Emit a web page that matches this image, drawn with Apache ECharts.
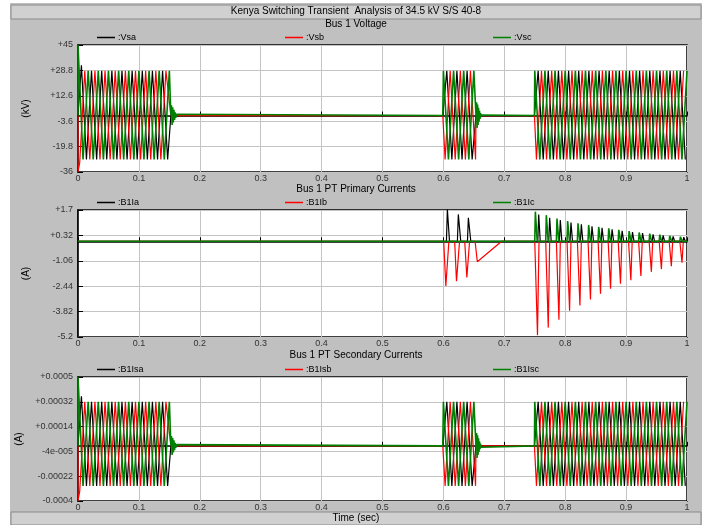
<!DOCTYPE html>
<html>
<head>
<meta charset="utf-8">
<title>Kenya Switching Transient Analysis</title>
<script src="https://cdn.jsdelivr.net/npm/echarts@6/dist/echarts.min.js"></script>
<style>
  html, body { margin: 0; padding: 0; background: #fff; }
  #main { width: 712px; height: 525px; }
</style>
</head>
<body>
<div id="main"></div>
<script>
// tick labels
const timeTicks = ['0', '0.1', '0.2', '0.3', '0.4', '0.5', '0.6', '0.7', '0.8', '0.9', '1']
const voltTicks = ['-36', '-19.8', '-3.6', '+12.6', '+28.8', '+45']
const primTicks = ['-5.2', '-3.82', '-2.44', '-1.06', '+0.32', '+1.7']
const secTicks = ['-0.0004', '-0.00022', '-4e-005', '+0.00014', '+0.00032', '+0.0005']

// energised intervals (s): where the traces leave zero and where they return to it
const burstStart = [0, 0.599, 0.7495]
const burstStop = [0.1525, 0.6535, 1.0]

// peak times of each phase in the three intervals
const peakTimesA = [
  [0.0056, 0.0139, 0.0222, 0.0306, 0.0389, 0.0472, 0.0556, 0.0639, 0.0722, 0.0806, 0.0889, 0.0972, 0.1056, 0.1139, 0.1222, 0.1306, 0.1389, 0.1472],
  [0.6056, 0.6139, 0.6222, 0.6306, 0.6389, 0.6472],
  [0.7556, 0.7639, 0.7722, 0.7806, 0.7889, 0.7972, 0.8056, 0.8139, 0.8222, 0.8306, 0.8389, 0.8472, 0.8556, 0.8639, 0.8722, 0.8806, 0.8889, 0.8972, 0.9056, 0.9139, 0.9222, 0.9306, 0.9389, 0.9472, 0.9556, 0.9639, 0.9722, 0.9806, 0.9889, 0.9972]
]
const peakTimesB = [
  [0, 0.0028, 0.0111, 0.0194, 0.0278, 0.0361, 0.0444, 0.0528, 0.0611, 0.0694, 0.0778, 0.0861, 0.0944, 0.1028, 0.1111, 0.1194, 0.1278, 0.1361, 0.1444],
  [0.6028, 0.6111, 0.6194, 0.6278, 0.6361, 0.6444, 0.6528],
  [0.7528, 0.7611, 0.7694, 0.7778, 0.7861, 0.7944, 0.8028, 0.8111, 0.8194, 0.8278, 0.8361, 0.8444, 0.8528, 0.8611, 0.8694, 0.8778, 0.8861, 0.8944, 0.9028, 0.9111, 0.9194, 0.9278, 0.9361, 0.9444, 0.9528, 0.9611, 0.9694, 0.9778, 0.9861, 0.9944]
]
const peakTimesC = [
  [0, 0.0083, 0.0167, 0.0250, 0.0333, 0.0417, 0.0500, 0.0583, 0.0667, 0.0750, 0.0833, 0.0917, 0.1000, 0.1083, 0.1167, 0.1250, 0.1333, 0.1417, 0.1500],
  [0.6000, 0.6083, 0.6167, 0.6250, 0.6333, 0.6417, 0.6500],
  [0.7500, 0.7583, 0.7667, 0.7750, 0.7833, 0.7917, 0.8000, 0.8083, 0.8167, 0.8250, 0.8333, 0.8417, 0.8500, 0.8583, 0.8667, 0.8750, 0.8833, 0.8917, 0.9000, 0.9083, 0.9167, 0.9250, 0.9333, 0.9417, 0.9500, 0.9583, 0.9667, 0.9750, 0.9833, 0.9917, 1.0000]
]

// bus voltage peaks (kV)
const vsa = [
  [32.0, -28.0, 28.6, -28.0, 28.6, -28.0, 28.6, -28.0, 28.6, -28.0, 28.6, -28.0, 28.6, -28.0, 28.6, -28.0, 28.6, -28.0],
  [28.6, -28.0, 28.6, -28.0, 28.6, -28.0],
  [28.6, -28.0, 28.6, -28.0, 28.6, -28.0, 28.6, -28.0, 28.6, -28.0, 28.6, -28.0, 28.6, -28.0, 28.6, -28.0, 28.6, -28.0, 28.6, -28.0, 28.6, -28.0, 28.6, -28.0, 28.6, -28.0, 28.6, -28.0, 28.6, -28.0]
]
const vsb = [
  [-36, -30.0, 28.6, -28.0, 28.6, -28.0, 28.6, -28.0, 28.6, -28.0, 28.6, -28.0, 28.6, -28.0, 28.6, -28.0, 28.6, -28.0, 28.6],
  [-28.0, 28.6, -28.0, 28.6, -28.0, 28.6, -28.0],
  [-28.0, 28.6, -28.0, 28.6, -28.0, 28.6, -28.0, 28.6, -28.0, 28.6, -28.0, 28.6, -28.0, 28.6, -28.0, 28.6, -28.0, 28.6, -28.0, 28.6, -28.0, 28.6, -28.0, 28.6, -28.0, 28.6, -28.0, 28.6, -28.0, 28.6]
]
const vsc = [
  [45, -28.0, 28.6, -28.0, 28.6, -28.0, 28.6, -28.0, 28.6, -28.0, 28.6, -28.0, 28.6, -28.0, 28.6, -28.0, 28.6, -28.0, 28.6],
  [28.6, -28.0, 28.6, -28.0, 28.6, -28.0, 28.6],
  [28.6, -28.0, 28.6, -28.0, 28.6, -28.0, 28.6, -28.0, 28.6, -28.0, 28.6, -28.0, 28.6, -28.0, 28.6, -28.0, 28.6, -28.0, 28.6, -28.0, 28.6, -28.0, 28.6, -28.0, 28.6, -28.0, 28.6, -28.0, 28.6, -28.0, 28.6]
]
// ringing of phase c after each opening [t, kV]
const ringVsc = [
  [[0.1535, 6.5], [0.1545, -6.0], [0.1555, 5.2], [0.1565, -4.4], [0.1575, 3.6], [0.1585, -2.8], [0.1595, 2.0], [0.1605, -1.4], [0.1615, 0.8], [0.1625, -0.4], [0.1640, 0]],
  [[0.6545, 8.5], [0.6553, -8.0], [0.6561, 7.0], [0.6569, -6.0], [0.6577, 5.0], [0.6585, -4.0], [0.6593, 3.0], [0.6601, -2.2], [0.6609, 1.5], [0.6617, -0.9], [0.6625, 0.4], [0.6635, 0]],
  []
]

// PT secondary current peaks (A)
const isa = [
  [0.00036, -0.00029, 0.00032, -0.00029, 0.00032, -0.00029, 0.00032, -0.00029, 0.00032, -0.00029, 0.00032, -0.00029, 0.00032, -0.00029, 0.00032, -0.00029, 0.00032, -0.00029],
  [0.00032, -0.00029, 0.00032, -0.00029, 0.00032, -0.00029],
  [0.00032, -0.00029, 0.00032, -0.00029, 0.00032, -0.00029, 0.00032, -0.00029, 0.00032, -0.00029, 0.00032, -0.00029, 0.00032, -0.00029, 0.00032, -0.00029, 0.00032, -0.00029, 0.00032, -0.00029, 0.00032, -0.00029, 0.00032, -0.00029, 0.00032, -0.00029, 0.00032, -0.00029, 0.00032, -0.00029]
]
const isb = [
  [-0.0004, -0.00033, 0.00032, -0.00029, 0.00032, -0.00029, 0.00032, -0.00029, 0.00032, -0.00029, 0.00032, -0.00029, 0.00032, -0.00029, 0.00032, -0.00029, 0.00032, -0.00029, 0.00032],
  [-0.00029, 0.00032, -0.00029, 0.00032, -0.00029, 0.00032, -0.00029],
  [-0.00029, 0.00032, -0.00029, 0.00032, -0.00029, 0.00032, -0.00029, 0.00032, -0.00029, 0.00032, -0.00029, 0.00032, -0.00029, 0.00032, -0.00029, 0.00032, -0.00029, 0.00032, -0.00029, 0.00032, -0.00029, 0.00032, -0.00029, 0.00032, -0.00029, 0.00032, -0.00029, 0.00032, -0.00029, 0.00032]
]
const isc = [
  [0.0005, -0.00029, 0.00032, -0.00029, 0.00032, -0.00029, 0.00032, -0.00029, 0.00032, -0.00029, 0.00032, -0.00029, 0.00032, -0.00029, 0.00032, -0.00029, 0.00032, -0.00029, 0.00032],
  [0.00032, -0.00029, 0.00032, -0.00029, 0.00032, -0.00029, 0.00032],
  [0.00032, -0.00029, 0.00032, -0.00029, 0.00032, -0.00029, 0.00032, -0.00029, 0.00032, -0.00029, 0.00032, -0.00029, 0.00032, -0.00029, 0.00032, -0.00029, 0.00032, -0.00029, 0.00032, -0.00029, 0.00032, -0.00029, 0.00032, -0.00029, 0.00032, -0.00029, 0.00032, -0.00029, 0.00032, -0.00029, 0.00032]
]
const ringIsc = [
  [[0.1535, 0.000072], [0.1545, -0.000066], [0.1555, 0.000057], [0.1565, -0.000048], [0.1575, 0.00004], [0.1585, -0.000031], [0.1595, 0.000022], [0.1605, -0.000015], [0.1615, 0.000009], [0.1625, -0.000004], [0.1640, 0]],
  [[0.6545, 0.000094], [0.6553, -0.000088], [0.6561, 0.000077], [0.6569, -0.000066], [0.6577, 0.000055], [0.6585, -0.000044], [0.6593, 0.000033], [0.6601, -0.000024], [0.6609, 0.000016], [0.6617, -0.00001], [0.6625, 0.000004], [0.6635, 0]],
  []
]

// PT primary current pulses (A): [start, peak time, end, peak value]
const b1iaPulses = [
  [0.6050, 0.6065, 0.6100, 1.75], [0.6230, 0.6245, 0.6285, 1.46], [0.6395, 0.6410, 0.6450, 1.28],
  [0.7550, 0.7565, 0.7590, 1.46], [0.7730, 0.7745, 0.7770, 1.28], [0.7905, 0.7920, 0.7945, 1.15],
  [0.8080, 0.8095, 0.8120, 1.02], [0.8250, 0.8265, 0.8290, 0.92], [0.8425, 0.8440, 0.8465, 0.82],
  [0.8590, 0.8605, 0.8630, 0.73], [0.8755, 0.8770, 0.8795, 0.65], [0.8920, 0.8935, 0.8960, 0.57],
  [0.9090, 0.9105, 0.9130, 0.50], [0.9255, 0.9270, 0.9295, 0.44], [0.9428, 0.9443, 0.9468, 0.38],
  [0.9593, 0.9608, 0.9633, 0.32], [0.9757, 0.9772, 0.9797, 0.27], [0.9932, 0.9947, 0.9972, 0.22]
]
const b1ibPulses = [
  [0.6005, 0.6040, 0.6090, -2.43], [0.6185, 0.6215, 0.6265, -2.17], [0.6350, 0.6385, 0.6430, -1.97],
  [0.7500, 0.7545, 0.7570, -5.10], [0.7680, 0.7722, 0.7745, -4.69], [0.7855, 0.7897, 0.7920, -4.26],
  [0.8030, 0.8072, 0.8095, -3.77], [0.8200, 0.8242, 0.8265, -3.49], [0.8375, 0.8415, 0.8438, -3.16],
  [0.8540, 0.8580, 0.8602, -2.85], [0.8705, 0.8745, 0.8767, -2.58], [0.8870, 0.8908, 0.8930, -2.30],
  [0.9040, 0.9078, 0.9100, -2.12], [0.9205, 0.9243, 0.9265, -1.88], [0.9378, 0.9415, 0.9437, -1.66],
  [0.9543, 0.9580, 0.9602, -1.51], [0.9707, 0.9743, 0.9765, -1.35], [0.9882, 0.9918, 0.9940, -1.16]
]
// slow decay of phase b after the second opening [t, A]
const b1ibDecay = [[0.6520, 0], [0.6557, -1.11], [0.6957, 0]]
const b1icPulses = [
  [0.7500, 0.7510, 0.7540, 1.61], [0.7680, 0.7690, 0.7720, 1.42], [0.7855, 0.7865, 0.7895, 1.24],
  [0.8030, 0.8040, 0.8070, 1.10], [0.8200, 0.8210, 0.8240, 0.98], [0.8375, 0.8385, 0.8415, 0.88],
  [0.8540, 0.8550, 0.8580, 0.78], [0.8705, 0.8715, 0.8745, 0.70], [0.8870, 0.8880, 0.8910, 0.62],
  [0.9040, 0.9050, 0.9080, 0.55], [0.9205, 0.9215, 0.9245, 0.48], [0.9378, 0.9388, 0.9418, 0.42],
  [0.9543, 0.9553, 0.9583, 0.36], [0.9707, 0.9717, 0.9747, 0.30], [0.9882, 0.9892, 0.9922, 0.25]
]

const FONT = 'Liberation Sans'

// a trace that sits at zero except inside the energised intervals
function buildWave (times, values, ring) {
  const pts = []
  times.forEach((seg, s) => {
    pts.push([burstStart[s], 0])
    seg.forEach((t, i) => pts.push([t, values[s][i]]))
    if (burstStop[s] < 1) pts.push([burstStop[s], 0])
    if (ring && ring[s]) ring[s].forEach(p => pts.push(p))
  })
  return pts
}

// a trace made of short current pulses on a zero baseline
function buildPulses (pulses, extra) {
  const pts = [[0, 0]]
  let merged = pulses.map(p => [[p[0], 0], [p[1], p[3]], [p[2], 0]])
  if (extra) merged.push(extra)
  merged.sort((a, b) => a[0][0] - b[0][0])
  merged.forEach(m => m.forEach(p => pts.push(p)))
  pts.push([1, 0])
  return pts
}

const panels = [
  { top: 45, height: 127, min: -36, max: 45, ticks: voltTicks, unit: '(kV)' },
  { top: 210, height: 127, min: -5.2, max: 1.7, ticks: primTicks, unit: '(A)' },
  { top: 377, height: 124, min: -0.0004, max: 0.0005, ticks: secTicks, unit: '(A)' }
]

const grid = panels.map(p => ({
  left: 78, right: 25, top: p.top, height: p.height,
  show: true, backgroundColor: '#ffffff', borderColor: '#000000', borderWidth: 1.5
}))

const xAxis = panels.map((p, i) => ({
  type: 'value', gridIndex: i, min: 0, max: 1, interval: 0.1,
  axisLine: { lineStyle: { color: '#000', width: 1.5 } },
  axisTick: { inside: true, length: 4, lineStyle: { color: '#000' } },
  splitLine: { show: true, lineStyle: { color: '#c4c4c4', width: 1 } },
  axisLabel: {
    fontFamily: FONT, fontSize: 9, color: '#333', margin: 2,
    formatter: v => timeTicks[Math.round(v * 10)]
  }
}))

const yAxis = []
panels.forEach((p, i) => {
  // value scale of the traces
  yAxis.push({ type: 'value', gridIndex: i, min: p.min, max: p.max, show: false })
  // five equal divisions carrying the tick labels
  yAxis.push({
    type: 'value', gridIndex: i, min: 0, max: 5, interval: 1, position: 'left',
    name: p.unit, nameLocation: 'middle', nameGap: 47, nameRotate: 90,
    nameTextStyle: { fontFamily: FONT, fontSize: 10, color: '#000' },
    axisLine: { lineStyle: { color: '#000', width: 1.5 } },
    axisTick: { inside: true, length: 5, lineStyle: { color: '#000' } },
    splitLine: { show: true, lineStyle: { color: '#c4c4c4', width: 1 } },
    axisLabel: {
      fontFamily: FONT, fontSize: 9, color: '#333', margin: 5,
      formatter: v => p.ticks[Math.round(v)]
    }
  })
})

const colors = ['#000000', '#ff0000', '#008000']
const widths = [1.2, 1.2, 1.6]
const seriesDefs = [
  { name: ':Vsa', panel: 0, data: buildWave(peakTimesA, vsa) },
  { name: ':Vsb', panel: 0, data: buildWave(peakTimesB, vsb) },
  { name: ':Vsc', panel: 0, data: buildWave(peakTimesC, vsc, ringVsc) },
  { name: ':B1Ia', panel: 1, data: buildPulses(b1iaPulses) },
  { name: ':B1Ib', panel: 1, data: buildPulses(b1ibPulses, b1ibDecay) },
  { name: ':B1Ic', panel: 1, data: buildPulses(b1icPulses) },
  { name: ':B1Isa', panel: 2, data: buildWave(peakTimesA, isa) },
  { name: ':B1Isb', panel: 2, data: buildWave(peakTimesB, isb) },
  { name: ':B1Isc', panel: 2, data: buildWave(peakTimesC, isc, ringIsc) }
]

const series = seriesDefs.map((s, i) => ({
  name: s.name, type: 'line', xAxisIndex: s.panel, yAxisIndex: s.panel * 2,
  data: s.data, showSymbol: false, symbol: 'none', clip: true,
  lineStyle: { color: colors[i % 3], width: widths[i % 3] },
  itemStyle: { color: colors[i % 3] },
  animation: false
}))

const legendLeft = [97, 285, 493]
const legend = seriesDefs.map((s, i) => ({
  data: [s.name], left: legendLeft[i % 3], top: panels[s.panel].top - 12,
  padding: 0, icon: 'rect', itemWidth: 18, itemHeight: 1.5, itemGap: 2,
  selectedMode: false,
  textStyle: { fontFamily: FONT, fontSize: 9, color: '#000', padding: [0, 0, 0, -2] }
}))

function barText (text, cy) {
  return { type: 'text', left: 'center', top: cy - 6, z: 10,
    style: { text: text, fontFamily: FONT, fontSize: 10, fill: '#000' } }
}

const chart = echarts.init(document.getElementById('main'))
chart.setOption({
  animation: false,
  backgroundColor: '#ffffff',
  graphic: [
    { type: 'rect', shape: { x: 10, y: 3, width: 692, height: 522 }, style: { fill: '#c0c0c0' }, z: -10 },
    { type: 'rect', shape: { x: 11, y: 5, width: 690, height: 14 }, style: { fill: '#d0d0d0', stroke: '#8a8a8a', lineWidth: 1 }, z: -9 },
    { type: 'rect', shape: { x: 11, y: 512, width: 690, height: 13 }, style: { fill: '#d0d0d0', stroke: '#8a8a8a', lineWidth: 1 }, z: -9 },
    barText('Kenya Switching Transient  Analysis of 34.5 kV S/S 40-8', 12),
    barText('Bus 1 Voltage', 25),
    barText('Bus 1 PT Primary Currents', 190),
    barText('Bus 1 PT Secondary Currents', 356),
    barText('Time (sec)', 519)
  ],
  grid: grid,
  xAxis: xAxis,
  yAxis: yAxis,
  legend: legend,
  series: series
})
</script>
</body>
</html>
